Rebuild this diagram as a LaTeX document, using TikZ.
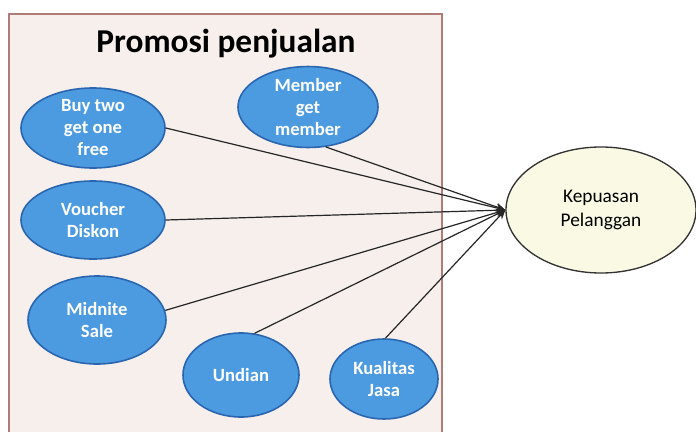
\documentclass[tikz,border=0pt]{standalone}
\usepackage{fontspec}
\setmainfont{Carlito}
\usetikzlibrary{shapes.geometric,arrows.meta}
\definecolor{panelfill}{HTML}{F6EFEB}
\definecolor{panelline}{HTML}{B07C7A}
\definecolor{bluefill}{HTML}{4C9BE0}
\definecolor{blueline}{HTML}{2A66B0}
\definecolor{yelfill}{HTML}{FAFAE4}
\tikzset{
  factor/.style={ellipse, draw=blueline, line width=1.2pt, fill=bluefill, text=white,
    inner sep=0pt, align=center, font=\fontsize{14}{16.5}\selectfont\bfseries},
  target/.style={ellipse, draw=black!80, line width=1pt, fill=yelfill, text=black,
    inner sep=0pt, align=center, font=\fontsize{14.5}{17.5}\selectfont},
  link/.style={draw=black!85, line width=0.9pt, -{Stealth[length=7pt,width=6pt]}}
}
\begin{document}
\begin{tikzpicture}[x=0.75pt,y=-0.75pt]
\useasboundingbox (0,0) rectangle (696,432);
\fill[white] (0,0) rectangle (696,432);
\fill[panelfill] (9,14) rectangle (442,432);
\draw[panelline, line width=0.8pt] (9,432) -- (9,14) -- (442,14) -- (442,432);
\node (title) at (226,44) {\fontsize{25}{30}\selectfont\bfseries Promosi penjualan};
\node[factor, minimum width=144pt*0.75, minimum height=80pt*0.75] (buy) at (93,128) {Buy two\\get one\\free};
\node[factor, minimum width=140pt*0.75, minimum height=78pt*0.75] (member) at (308,107) {Member\\get\\member};
\node[factor, minimum width=144pt*0.75, minimum height=78pt*0.75] (voucher) at (93,220) {Voucher\\Diskon};
\node[factor, minimum width=138pt*0.75, minimum height=88pt*0.75] (midnite) at (97,320) {Midnite\\Sale};
\node[factor, minimum width=116pt*0.75, minimum height=84pt*0.75] (undian) at (241,375) {Undian};
\node[factor, minimum width=108pt*0.75, minimum height=80pt*0.75] (kualitas) at (384,379) {Kualitas\\Jasa};
\node[target, minimum width=190pt*0.75, minimum height=126pt*0.75] (kepuasan) at (601,210) {Kepuasan\\Pelanggan};
\draw[link] (buy.east) -- (kepuasan.west);
\draw[link] (member.-66) -- (kepuasan.west);
\draw[link] (voucher.east) -- (kepuasan.west);
\draw[link] (midnite.8) -- (kepuasan.west);
\draw[link] (undian.72) -- (kepuasan.west);
\draw[link] (kualitas.88) -- (kepuasan.west);
\end{tikzpicture}
\end{document}
